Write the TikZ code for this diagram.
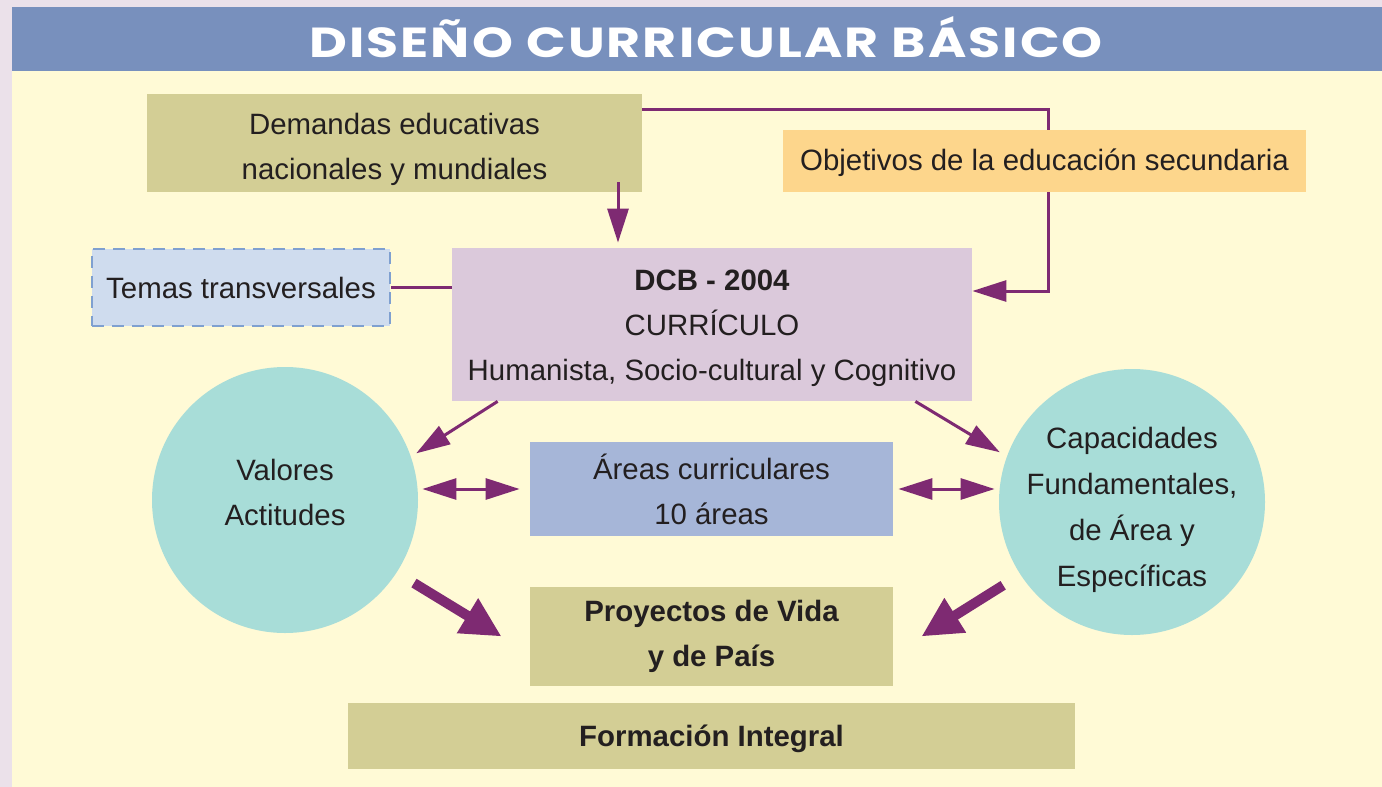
\documentclass[tikz,border=0pt]{standalone}
\usepackage{fontspec}
\setmainfont{Liberation Sans}
\newfontfamily\titlefont{Poppins}[FakeStretch=1.24,LetterSpace=5]
\usetikzlibrary{positioning,arrows.meta}

\definecolor{lavanda}{HTML}{EBE1EA}
\definecolor{barra}{HTML}{7890BD}
\definecolor{panel}{HTML}{FFFAD6}
\definecolor{caqui}{HTML}{D3CE95}
\definecolor{naranja}{HTML}{FDD68C}
\definecolor{rosa}{HTML}{DBC9DB}
\definecolor{celeste}{HTML}{CFDCEE}
\definecolor{celesteborde}{HTML}{7FA0D0}
\definecolor{turquesa}{HTML}{A8DDD8}
\definecolor{azulgris}{HTML}{A6B6D8}
\definecolor{morado}{HTML}{7E2A72}
\definecolor{texto}{HTML}{231F20}

\pgfdeclarelayer{bg}
\pgfdeclarelayer{behind}
\pgfsetlayers{bg,behind,main}

\begin{document}
\begin{tikzpicture}[
		x=0.5pt,y=-0.5pt,
		box/.style={
			draw=none,
			inner sep=0,
			align=center,
			text=texto,
			font=\fontsize{14.7}{22.5}\selectfont
		},
		rect/.style={
			box,
			rectangle,
			minimum width=#1
		},
		circ/.style={
			box,
			circle,
			inner sep=-12pt,
			fill=turquesa,
			minimum size=133pt
		},
		link/.style={draw=morado,line width=1.5pt},
		arr/.style={link,-{Triangle[length=17pt,width=10.5pt]}},
		dbl/.style={link,{Triangle[length=17pt,width=10.5pt]}-{Triangle[length=17pt,width=10.5pt]}},
		fat/.style={draw=morado,line width=5pt,-{Triangle[length=20pt,width=19pt]}}
		]
		% background and title bar
		\begin{pgfonlayer}{bg}
			\fill[lavanda] (0,0) rectangle (1382,787);
			\fill[panel] (12,71) rectangle (1382,787);
			\fill[barra] (12,7) rectangle (1382,71);
		\end{pgfonlayer}
		\node[anchor=base,text=white,font=\titlefont\bfseries\fontsize{21}{25}\selectfont] (titulo) at (706,57) {DISEÑO CURRICULAR BÁSICO};

		% boxes
		\node[rect=247.5pt,minimum height=49pt,fill=caqui] (demandas) at (394.5,143) {\rule{0pt}{17pt}Demandas educativas\\nacionales y mundiales};
		\node[rect=261.5pt,minimum height=31pt,fill=naranja] (objetivos) at (1044.5,161) {\rule{0pt}{13pt}Objetivos de la educación secundaria};
		\node[rect=260pt,minimum height=76.5pt,fill=rosa] (dcb) at (712,324.5) {\rule{0pt}{14pt}\textbf{DCB - 2004}\\CURRÍCULO\\Humanista, Socio-cultural y Cognitivo};
		\node[rect=149pt,minimum height=38.5pt,fill=celeste,draw=celesteborde,line width=1pt,dash pattern=on 6pt off 4pt] (temas) at (241,287.5) {Temas transversales};
		\node[circ] (valores) at (285,500) {Valores\\Actitudes\rule[-8pt]{0pt}{8pt}};
		\node[circ,font=\fontsize{14.7}{23}\selectfont] (capacidades) at (1132,502) {\rule{0pt}{19pt}Capacidades\\Fundamentales,\\de Área y\\Específicas};
		\node[rect=181.5pt,minimum height=47pt,fill=azulgris] (areas) at (711.5,489) {Áreas curriculares\\10 áreas};
		\node[rect=181.5pt,minimum height=49.5pt,fill=caqui,font=\fontsize{14.7}{22.5}\selectfont\bfseries] (proyectos) at (711.5,636.5) {Proyectos de Vida\\y de País};
		\node[rect=363.5pt,minimum height=33pt,fill=caqui,font=\fontsize{14.7}{22.5}\selectfont\bfseries] (formacion) at (711.5,736) {\rule{0pt}{14pt}Formación Integral};

		% Demandas -> Objetivos -> DCB
		\coordinate (objin) at ([yshift=-8pt]demandas.north east);
		\coordinate (objout) at ([yshift=16.75pt]dcb.east);
		\coordinate (objx) at ([xshift=2pt]objetivos.center);
		\begin{pgfonlayer}{behind}
			\draw[arr] (objin) -| (objx |- objout) -- (objout);
		\end{pgfonlayer}
		% Demandas -> DCB
		\coordinate (dm) at ([xshift=-47pt]dcb.north);
		\draw[arr,shorten <=-5pt,shorten >=2.5pt] (dm |- demandas.south) -- (dm);
		% Temas -- DCB
		\draw[link] (temas.east) -- (temas.east -| dcb.west);
		% DCB -> circles
		\draw[arr,shorten >=3pt] ([xshift=23pt]dcb.south west) -- (valores.19);
		\draw[arr,shorten >=4pt] ([xshift=-28.5pt]dcb.south east) -- (capacidades.160);
		% circles <-> Areas
		\draw[dbl,shorten <=2pt,shorten >=5pt] (valores.east |- areas.west) -- (areas.west);
		\draw[dbl,shorten <=2.5pt,shorten >=2pt] (areas.east) -- (capacidades.west |- areas.east);
		% circles -> Proyectos
		\draw[fat,shorten <=10pt] (valores.-33) -- ([xshift=-14pt]proyectos.west);
		\draw[fat,shorten <=10pt] (capacidades.-147) -- ([xshift=14pt]proyectos.east);
\end{tikzpicture}
\end{document}
